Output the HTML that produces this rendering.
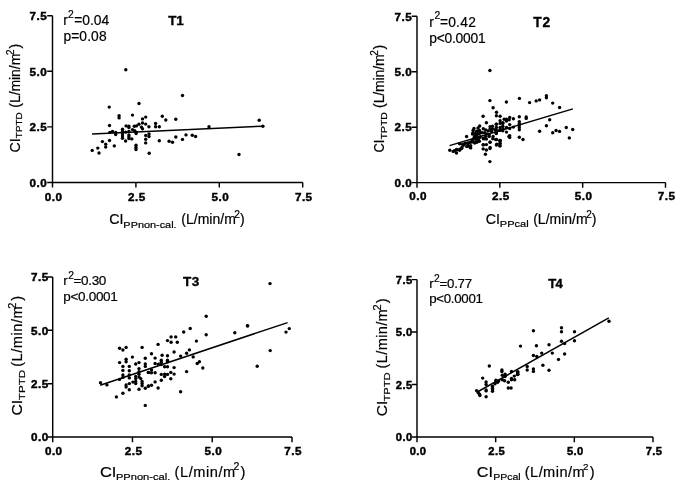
<!DOCTYPE html>
<html><head><meta charset="utf-8"><style>
html,body{margin:0;padding:0;background:#fff;}
svg{display:block;}
text{font-family:"Liberation Sans",Arial,sans-serif;fill:#000;}
.ax{stroke:#000;stroke-width:1.45;fill:none;}
.rl{stroke:#000;stroke-width:1.5;fill:none;}
.tl{font-weight:bold;stroke:#000;stroke-width:0.45px;}
text{stroke:#000;stroke-width:0.2px;}
text[font-weight=bold]{stroke-width:0.35px;}
.pt circle{fill:#000;}
</style></head><body>
<svg width="685" height="490" viewBox="0 0 685 490">
<rect width="685" height="490" fill="#fff"/>
<path d="M52.5 15.8V187.6M47.2 182.4H302.7" class="ax"/>
<path d="M47.2 126.87H52.5M135.9 182.4V187.6M47.2 71.33H52.5M219.3 182.4V187.6M47.2 15.8H52.5M302.7 182.4V187.6" class="ax"/>
<text x="47.2" y="186.6" class="tl" text-anchor="end" font-size="11.7" letter-spacing="0.5">0.0</text>
<text x="53.55" y="200.6" class="tl" text-anchor="middle" font-size="11.7" letter-spacing="0.5">0.0</text>
<text x="47.2" y="131.07" class="tl" text-anchor="end" font-size="11.7" letter-spacing="0.5">2.5</text>
<text x="136.95" y="200.6" class="tl" text-anchor="middle" font-size="11.7" letter-spacing="0.5">2.5</text>
<text x="47.2" y="75.53" class="tl" text-anchor="end" font-size="11.7" letter-spacing="0.5">5.0</text>
<text x="220.35" y="200.6" class="tl" text-anchor="middle" font-size="11.7" letter-spacing="0.5">5.0</text>
<text x="47.2" y="20" class="tl" text-anchor="end" font-size="11.7" letter-spacing="0.5">7.5</text>
<text x="303.75" y="200.6" class="tl" text-anchor="middle" font-size="11.7" letter-spacing="0.5">7.5</text>
<text x="63.3" y="24.6" font-size="13.8">r</text>
<text x="68.1" y="17.8" font-size="10.3">2</text>
<text x="74.3" y="24.6" font-size="13.8" letter-spacing="-0.02">=0.04</text>
<text x="63.4" y="40.8" font-size="13.8" letter-spacing="0.12">p=0.08</text>
<text x="168.2" y="24.7" font-size="13.4" font-weight="bold" letter-spacing="-0.2">T1</text>
<text x="109.29" y="224.2" font-size="14" textLength="14.23" lengthAdjust="spacingAndGlyphs">CI</text>
<text x="123.38" y="227.8" font-size="9.52" textLength="53.21" lengthAdjust="spacingAndGlyphs">PPnon-cal.</text>
<text x="181.2" y="224.2" font-size="14" letter-spacing="0.04">(L/min/m</text>
<text x="234.2" y="217.9" font-size="10.34">2</text>
<text x="240" y="224.2" font-size="14">)</text>
<g transform="rotate(-90)"><text x="-152.41" y="20" font-size="14" textLength="14.23" lengthAdjust="spacingAndGlyphs">CI</text><text x="-138.21" y="22.4" font-size="9.52" textLength="26.04" lengthAdjust="spacingAndGlyphs">TPTD</text><text x="-107.7" y="20" font-size="14" letter-spacing="-0.06">(L/min/m</text><text x="-55.3" y="13.7" font-size="10.47">2</text><text x="-48.6" y="20" font-size="14">)</text></g>
<path d="M92.1 134.1L262.8 126.2" class="rl"/>
<g class="pt"><circle cx="125.8" cy="69.8" r="1.7"/><circle cx="182.5" cy="95.5" r="1.7"/><circle cx="139" cy="103.5" r="1.7"/><circle cx="109.2" cy="107.1" r="1.7"/><circle cx="92.2" cy="150.4" r="1.7"/><circle cx="97.8" cy="148.1" r="1.7"/><circle cx="99" cy="153" r="1.7"/><circle cx="102.4" cy="141.6" r="1.7"/><circle cx="105.7" cy="144.3" r="1.7"/><circle cx="105.7" cy="147.1" r="1.7"/><circle cx="109.5" cy="140.5" r="1.7"/><circle cx="109.5" cy="125.5" r="1.7"/><circle cx="109.8" cy="132.4" r="1.7"/><circle cx="114.3" cy="145.9" r="1.7"/><circle cx="112.5" cy="131.4" r="1.7"/><circle cx="115.7" cy="132.5" r="1.7"/><circle cx="115.7" cy="134.6" r="1.7"/><circle cx="119.1" cy="115.7" r="1.7"/><circle cx="119.1" cy="117.9" r="1.7"/><circle cx="132.5" cy="115.1" r="1.7"/><circle cx="142.5" cy="118.9" r="1.7"/><circle cx="145.7" cy="117.1" r="1.7"/><circle cx="142.5" cy="123" r="1.7"/><circle cx="145.7" cy="124.1" r="1.7"/><circle cx="138.9" cy="124.3" r="1.7"/><circle cx="126.1" cy="125.9" r="1.7"/><circle cx="128.9" cy="126.1" r="1.7"/><circle cx="134.3" cy="126.3" r="1.7"/><circle cx="136.4" cy="125.9" r="1.7"/><circle cx="148.9" cy="126.8" r="1.7"/><circle cx="141.4" cy="127.1" r="1.7"/><circle cx="142.5" cy="128.7" r="1.7"/><circle cx="128.9" cy="127.5" r="1.7"/><circle cx="122.5" cy="129.3" r="1.7"/><circle cx="122.5" cy="131.4" r="1.7"/><circle cx="122.5" cy="133.9" r="1.7"/><circle cx="122.5" cy="136.1" r="1.7"/><circle cx="122.5" cy="138.2" r="1.7"/><circle cx="132.5" cy="129.6" r="1.7"/><circle cx="134.6" cy="130.7" r="1.7"/><circle cx="136.1" cy="132.1" r="1.7"/><circle cx="136.1" cy="133.6" r="1.7"/><circle cx="128.9" cy="131.4" r="1.7"/><circle cx="125.7" cy="132.1" r="1.7"/><circle cx="128.9" cy="135" r="1.7"/><circle cx="128.9" cy="136.8" r="1.7"/><circle cx="128.9" cy="138.6" r="1.7"/><circle cx="131.8" cy="138.9" r="1.7"/><circle cx="125.6" cy="141" r="1.7"/><circle cx="145.7" cy="135.4" r="1.7"/><circle cx="145.7" cy="139.3" r="1.7"/><circle cx="145.7" cy="142.9" r="1.7"/><circle cx="149" cy="134" r="1.7"/><circle cx="149" cy="136.5" r="1.7"/><circle cx="136" cy="145.3" r="1.7"/><circle cx="136" cy="147.4" r="1.7"/><circle cx="136" cy="149.5" r="1.7"/><circle cx="162.3" cy="116.2" r="1.7"/><circle cx="165.8" cy="120" r="1.7"/><circle cx="175.8" cy="119.3" r="1.7"/><circle cx="155.6" cy="123.5" r="1.7"/><circle cx="155.6" cy="126.7" r="1.7"/><circle cx="159.3" cy="126.7" r="1.7"/><circle cx="159.3" cy="140.8" r="1.7"/><circle cx="169.1" cy="141.3" r="1.7"/><circle cx="172.5" cy="142.2" r="1.7"/><circle cx="175.8" cy="137" r="1.7"/><circle cx="182.5" cy="139.4" r="1.7"/><circle cx="186" cy="134.9" r="1.7"/><circle cx="192.3" cy="135.3" r="1.7"/><circle cx="195.6" cy="136.5" r="1.7"/><circle cx="149.2" cy="153.3" r="1.7"/><circle cx="209" cy="126.7" r="1.7"/><circle cx="259.2" cy="120.2" r="1.7"/><circle cx="262.9" cy="126.3" r="1.7"/><circle cx="239" cy="154.5" r="1.7"/></g>
<path d="M417 16.3V187.8M411.7 182.6H665.5" class="ax"/>
<path d="M411.7 127.17H417M499.83 182.6V187.8M411.7 71.73H417M582.67 182.6V187.8M411.7 16.3H417M665.5 182.6V187.8" class="ax"/>
<text x="412.3" y="186.8" class="tl" text-anchor="end" font-size="11.7" letter-spacing="0.5">0.0</text>
<text x="418.05" y="200.4" class="tl" text-anchor="middle" font-size="11.7" letter-spacing="0.5">0.0</text>
<text x="412.3" y="131.37" class="tl" text-anchor="end" font-size="11.7" letter-spacing="0.5">2.5</text>
<text x="500.88" y="200.4" class="tl" text-anchor="middle" font-size="11.7" letter-spacing="0.5">2.5</text>
<text x="412.3" y="75.93" class="tl" text-anchor="end" font-size="11.7" letter-spacing="0.5">5.0</text>
<text x="583.72" y="200.4" class="tl" text-anchor="middle" font-size="11.7" letter-spacing="0.5">5.0</text>
<text x="412.3" y="20.5" class="tl" text-anchor="end" font-size="11.7" letter-spacing="0.5">7.5</text>
<text x="666.55" y="200.4" class="tl" text-anchor="middle" font-size="11.7" letter-spacing="0.5">7.5</text>
<text x="429.2" y="26.6" font-size="13.8">r</text>
<text x="434.5" y="18.8" font-size="10.3">2</text>
<text x="439.9" y="26.6" font-size="13.8" letter-spacing="0.25">=0.42</text>
<text x="429.3" y="42.7" font-size="13.8" letter-spacing="-0.23">p&lt;0.0001</text>
<text x="533.3" y="26.7" font-size="13.8" font-weight="bold" letter-spacing="0.9">T2</text>
<text x="485.69" y="224" font-size="14" textLength="14.23" lengthAdjust="spacingAndGlyphs">CI</text>
<text x="499.87" y="227" font-size="9.52" textLength="28.85" lengthAdjust="spacingAndGlyphs">PPcal</text>
<text x="533.2" y="224" font-size="14">(L/min/m</text>
<text x="586.2" y="218.1" font-size="10.06">2</text>
<text x="591.7" y="224" font-size="14">)</text>
<g transform="rotate(-90)"><text x="-152.55" y="384.2" font-size="14" textLength="12.95" lengthAdjust="spacingAndGlyphs">CI</text><text x="-139.52" y="386.8" font-size="9.52" textLength="27.38" lengthAdjust="spacingAndGlyphs">TPTD</text><text x="-107.9" y="384.2" font-size="14" letter-spacing="-0.13">(L/min/m</text><text x="-55.8" y="378" font-size="10.06">2</text><text x="-49.5" y="384.2" font-size="14">)</text></g>
<path d="M449.5 145.6L572.9 108.9" class="rl"/>
<g class="pt"><circle cx="489.9" cy="70.5" r="1.7"/><circle cx="489.9" cy="100.6" r="1.7"/><circle cx="493.1" cy="107.7" r="1.7"/><circle cx="496.5" cy="112.3" r="1.7"/><circle cx="506.4" cy="102" r="1.7"/><circle cx="519.4" cy="98.4" r="1.7"/><circle cx="529.6" cy="102.6" r="1.7"/><circle cx="536.2" cy="100.9" r="1.7"/><circle cx="539.6" cy="99.9" r="1.7"/><circle cx="546.4" cy="95.8" r="1.7"/><circle cx="546.4" cy="97.7" r="1.7"/><circle cx="552.7" cy="103.1" r="1.7"/><circle cx="559.6" cy="107.5" r="1.7"/><circle cx="549.7" cy="119.8" r="1.7"/><circle cx="546.4" cy="125.7" r="1.7"/><circle cx="539.6" cy="131.3" r="1.7"/><circle cx="552.7" cy="132.8" r="1.7"/><circle cx="556.1" cy="130.5" r="1.7"/><circle cx="559.6" cy="131.4" r="1.7"/><circle cx="566.3" cy="127.5" r="1.7"/><circle cx="572.7" cy="129.5" r="1.7"/><circle cx="569.3" cy="137.9" r="1.7"/><circle cx="500.1" cy="116.3" r="1.7"/><circle cx="519.3" cy="116.8" r="1.7"/><circle cx="526.2" cy="117" r="1.7"/><circle cx="526.2" cy="118.4" r="1.7"/><circle cx="509.7" cy="117.4" r="1.7"/><circle cx="513.4" cy="118.8" r="1.7"/><circle cx="506.5" cy="119.3" r="1.7"/><circle cx="509.2" cy="119.7" r="1.7"/><circle cx="506.5" cy="121.1" r="1.7"/><circle cx="500.1" cy="120.7" r="1.7"/><circle cx="519.3" cy="121.6" r="1.7"/><circle cx="519.3" cy="123.4" r="1.7"/><circle cx="519.3" cy="125.3" r="1.7"/><circle cx="519.3" cy="127.5" r="1.7"/><circle cx="519.3" cy="129.8" r="1.7"/><circle cx="509.7" cy="124.6" r="1.7"/><circle cx="513.4" cy="127.1" r="1.7"/><circle cx="509.7" cy="128.5" r="1.7"/><circle cx="506.5" cy="127.5" r="1.7"/><circle cx="502.8" cy="123.4" r="1.7"/><circle cx="502.8" cy="126.2" r="1.7"/><circle cx="500.1" cy="123.4" r="1.7"/><circle cx="500.1" cy="127.5" r="1.7"/><circle cx="496.4" cy="124.3" r="1.7"/><circle cx="496.4" cy="127.5" r="1.7"/><circle cx="496.4" cy="130.3" r="1.7"/><circle cx="496.4" cy="133.1" r="1.7"/><circle cx="500.1" cy="130.3" r="1.7"/><circle cx="502.8" cy="130.8" r="1.7"/><circle cx="506.5" cy="132.1" r="1.7"/><circle cx="509.7" cy="135.8" r="1.7"/><circle cx="509.7" cy="137.6" r="1.7"/><circle cx="519.3" cy="137.2" r="1.7"/><circle cx="523" cy="139.5" r="1.7"/><circle cx="496.4" cy="139.5" r="1.7"/><circle cx="500.1" cy="140.4" r="1.7"/><circle cx="500.1" cy="143.2" r="1.7"/><circle cx="504.2" cy="119.2" r="1.7"/><circle cx="508.9" cy="136.4" r="1.7"/><circle cx="483.1" cy="116.3" r="1.7"/><circle cx="486.4" cy="122.8" r="1.7"/><circle cx="479.7" cy="126" r="1.7"/><circle cx="496.2" cy="124.1" r="1.7"/><circle cx="502.9" cy="122.6" r="1.7"/><circle cx="502.9" cy="128.7" r="1.7"/><circle cx="499.9" cy="130.2" r="1.7"/><circle cx="490.1" cy="126.6" r="1.7"/><circle cx="492.5" cy="126.3" r="1.7"/><circle cx="490.1" cy="128.7" r="1.7"/><circle cx="492.5" cy="129" r="1.7"/><circle cx="495" cy="129.6" r="1.7"/><circle cx="483.3" cy="128.7" r="1.7"/><circle cx="485.8" cy="129.9" r="1.7"/><circle cx="488.2" cy="130.9" r="1.7"/><circle cx="491.3" cy="131.2" r="1.7"/><circle cx="496.2" cy="131.8" r="1.7"/><circle cx="496.2" cy="133.6" r="1.7"/><circle cx="476.9" cy="131.2" r="1.7"/><circle cx="479.7" cy="130.9" r="1.7"/><circle cx="479.7" cy="133.3" r="1.7"/><circle cx="482.1" cy="132.7" r="1.7"/><circle cx="484.6" cy="132.7" r="1.7"/><circle cx="487" cy="133.9" r="1.7"/><circle cx="489.2" cy="134.5" r="1.7"/><circle cx="493.1" cy="136.4" r="1.7"/><circle cx="489.2" cy="136.4" r="1.7"/><circle cx="485.8" cy="136.4" r="1.7"/><circle cx="483.3" cy="138.2" r="1.7"/><circle cx="479.7" cy="137.6" r="1.7"/><circle cx="476.9" cy="136.4" r="1.7"/><circle cx="476.9" cy="138.8" r="1.7"/><circle cx="486.4" cy="139.1" r="1.7"/><circle cx="492.8" cy="138.8" r="1.7"/><circle cx="496.2" cy="139.4" r="1.7"/><circle cx="499.9" cy="140.4" r="1.7"/><circle cx="490.1" cy="142.2" r="1.7"/><circle cx="479.4" cy="141.3" r="1.7"/><circle cx="476.9" cy="142.2" r="1.7"/><circle cx="483.3" cy="144.6" r="1.7"/><circle cx="486.4" cy="144.6" r="1.7"/><circle cx="496.8" cy="144.3" r="1.7"/><circle cx="499.9" cy="143.7" r="1.7"/><circle cx="499.9" cy="145.9" r="1.7"/><circle cx="490.1" cy="147.4" r="1.7"/><circle cx="496.4" cy="115.7" r="1.7"/><circle cx="489.9" cy="161.6" r="1.7"/><circle cx="485.4" cy="154.3" r="1.7"/><circle cx="483.2" cy="148.9" r="1.7"/><circle cx="486.4" cy="150" r="1.7"/><circle cx="490" cy="148.6" r="1.7"/><circle cx="483.2" cy="144.9" r="1.7"/><circle cx="490" cy="142.1" r="1.7"/><circle cx="496.4" cy="145" r="1.7"/><circle cx="500" cy="145.7" r="1.7"/><circle cx="500" cy="140.7" r="1.7"/><circle cx="495.7" cy="139.6" r="1.7"/><circle cx="483.6" cy="138.9" r="1.7"/><circle cx="473.6" cy="142.1" r="1.7"/><circle cx="470.7" cy="145.7" r="1.7"/><circle cx="470.7" cy="147.9" r="1.7"/><circle cx="466.6" cy="136.5" r="1.7"/><circle cx="449.8" cy="150.2" r="1.7"/><circle cx="453.2" cy="151.4" r="1.7"/><circle cx="456.5" cy="149.9" r="1.7"/><circle cx="456.5" cy="153" r="1.7"/><circle cx="459.6" cy="150.2" r="1.7"/><circle cx="461.7" cy="148.4" r="1.7"/><circle cx="463.3" cy="145.3" r="1.7"/><circle cx="459.6" cy="143.8" r="1.7"/><circle cx="465.1" cy="143.5" r="1.7"/><circle cx="467.6" cy="142.9" r="1.7"/><circle cx="467.6" cy="145.9" r="1.7"/><circle cx="454.4" cy="150.7" r="1.7"/><circle cx="456.6" cy="149.4" r="1.7"/><circle cx="459.7" cy="149.1" r="1.7"/><circle cx="461.8" cy="147.6" r="1.7"/><circle cx="462.7" cy="144.2" r="1.7"/><circle cx="466.7" cy="146.4" r="1.7"/><circle cx="468.2" cy="143.6" r="1.7"/><circle cx="469.8" cy="147" r="1.7"/><circle cx="469.8" cy="142.4" r="1.7"/><circle cx="471.6" cy="142.1" r="1.7"/><circle cx="472.2" cy="140.2" r="1.7"/><circle cx="473.7" cy="138.4" r="1.7"/><circle cx="473.1" cy="130.4" r="1.7"/><circle cx="473.1" cy="132.6" r="1.7"/><circle cx="475.3" cy="134.1" r="1.7"/><circle cx="476.5" cy="131.7" r="1.7"/><circle cx="476.5" cy="136" r="1.7"/><circle cx="476.5" cy="141.5" r="1.7"/><circle cx="478.3" cy="139.6" r="1.7"/><circle cx="474.7" cy="143" r="1.7"/><circle cx="477.7" cy="134.1" r="1.7"/><circle cx="479.3" cy="130.4" r="1.7"/><circle cx="480.2" cy="136.6" r="1.7"/><circle cx="474.5" cy="136.5" r="1.7"/><circle cx="472.5" cy="134" r="1.7"/><circle cx="475" cy="139" r="1.7"/><circle cx="478" cy="128" r="1.7"/><circle cx="474" cy="128.5" r="1.7"/></g>
<path d="M52.7 277V442.2M47.4 437H292" class="ax"/>
<path d="M47.4 383.67H52.7M132.47 437V442.2M47.4 330.33H52.7M212.23 437V442.2M47.4 277H52.7M292 437V442.2" class="ax"/>
<text x="48.7" y="441.2" class="tl" text-anchor="end" font-size="11.7" letter-spacing="0.5">0.0</text>
<text x="53.75" y="454.6" class="tl" text-anchor="middle" font-size="11.7" letter-spacing="0.5">0.0</text>
<text x="48.7" y="387.87" class="tl" text-anchor="end" font-size="11.7" letter-spacing="0.5">2.5</text>
<text x="133.52" y="454.6" class="tl" text-anchor="middle" font-size="11.7" letter-spacing="0.5">2.5</text>
<text x="48.7" y="334.53" class="tl" text-anchor="end" font-size="11.7" letter-spacing="0.5">5.0</text>
<text x="213.28" y="454.6" class="tl" text-anchor="middle" font-size="11.7" letter-spacing="0.5">5.0</text>
<text x="48.7" y="281.2" class="tl" text-anchor="end" font-size="11.7" letter-spacing="0.5">7.5</text>
<text x="293.05" y="454.6" class="tl" text-anchor="middle" font-size="11.7" letter-spacing="0.5">7.5</text>
<text x="63.2" y="285.4" font-size="13.5">r</text>
<text x="68.2" y="278.8" font-size="10.3">2</text>
<text x="73.5" y="285.4" font-size="13.5" letter-spacing="-0.32">=0.30</text>
<text x="63.2" y="300.8" font-size="13.5" letter-spacing="-0.29">p&lt;0.0001</text>
<text x="183" y="285.7" font-size="13.5" font-weight="bold" letter-spacing="0.6">T3</text>
<text x="99.94" y="476.6" font-size="15.3" textLength="16.48" lengthAdjust="spacingAndGlyphs">CI</text>
<text x="115.9" y="479.6" font-size="9.93" textLength="54.44" lengthAdjust="spacingAndGlyphs">PPnon-cal.</text>
<text x="174.6" y="476.6" font-size="14.6" letter-spacing="0.56">(L/min/m</text>
<text x="233.4" y="470.2" font-size="10.61">2</text>
<text x="240.4" y="476.6" font-size="14.6">)</text>
<g transform="rotate(-90)"><text x="-415.63" y="21.8" font-size="15.2" textLength="15.78" lengthAdjust="spacingAndGlyphs">CI</text><text x="-400.23" y="25" font-size="9.93" textLength="30.36" lengthAdjust="spacingAndGlyphs">TPTD</text><text x="-366.8" y="21.8" font-size="14.6" letter-spacing="0.54">(L/min/m</text><text x="-308.8" y="15.8" font-size="11.03">2</text><text x="-300.7" y="21.8" font-size="14.6">)</text></g>
<path d="M100.2 385.2L287.6 322.6" class="rl"/>
<g class="pt"><circle cx="119.6" cy="348.3" r="1.7"/><circle cx="122.9" cy="350" r="1.7"/><circle cx="126.1" cy="347.4" r="1.7"/><circle cx="142.1" cy="347.4" r="1.7"/><circle cx="132.4" cy="357.1" r="1.7"/><circle cx="145.3" cy="358.3" r="1.7"/><circle cx="126.1" cy="359.3" r="1.7"/><circle cx="126.1" cy="361.7" r="1.7"/><circle cx="119.6" cy="362.6" r="1.7"/><circle cx="122.9" cy="366.4" r="1.7"/><circle cx="129.3" cy="366.4" r="1.7"/><circle cx="135.7" cy="364" r="1.7"/><circle cx="139" cy="362.6" r="1.7"/><circle cx="145.3" cy="364" r="1.7"/><circle cx="145.3" cy="366.4" r="1.7"/><circle cx="122.9" cy="370.4" r="1.7"/><circle cx="129.3" cy="370.7" r="1.7"/><circle cx="139" cy="368.6" r="1.7"/><circle cx="139" cy="371.7" r="1.7"/><circle cx="148.6" cy="372.6" r="1.7"/><circle cx="122.9" cy="375" r="1.7"/><circle cx="129.3" cy="375" r="1.7"/><circle cx="122.9" cy="377.4" r="1.7"/><circle cx="129.3" cy="377.9" r="1.7"/><circle cx="135.7" cy="376.4" r="1.7"/><circle cx="135.7" cy="378.6" r="1.7"/><circle cx="139" cy="374.3" r="1.7"/><circle cx="139" cy="377.1" r="1.7"/><circle cx="140.7" cy="378.6" r="1.7"/><circle cx="119.5" cy="379.4" r="1.7"/><circle cx="135.7" cy="381.4" r="1.7"/><circle cx="132.9" cy="382.1" r="1.7"/><circle cx="129.3" cy="383.6" r="1.7"/><circle cx="135.7" cy="383.6" r="1.7"/><circle cx="142.1" cy="381.4" r="1.7"/><circle cx="142.1" cy="383.6" r="1.7"/><circle cx="142.1" cy="385.7" r="1.7"/><circle cx="126.1" cy="385" r="1.7"/><circle cx="126.1" cy="387.1" r="1.7"/><circle cx="129.3" cy="389.7" r="1.7"/><circle cx="139" cy="389.3" r="1.7"/><circle cx="145.3" cy="388.3" r="1.7"/><circle cx="148.6" cy="386" r="1.7"/><circle cx="100.5" cy="382.8" r="1.7"/><circle cx="106.9" cy="384.9" r="1.7"/><circle cx="122.9" cy="393.2" r="1.7"/><circle cx="116.4" cy="396.9" r="1.7"/><circle cx="145.3" cy="405.4" r="1.7"/><circle cx="183.7" cy="332" r="1.7"/><circle cx="171.1" cy="336.9" r="1.7"/><circle cx="175.7" cy="336.9" r="1.7"/><circle cx="167.5" cy="340.6" r="1.7"/><circle cx="171.1" cy="342.2" r="1.7"/><circle cx="177.3" cy="342.2" r="1.7"/><circle cx="196.4" cy="341.1" r="1.7"/><circle cx="158.1" cy="344.4" r="1.7"/><circle cx="174.1" cy="352" r="1.7"/><circle cx="189.4" cy="349.9" r="1.7"/><circle cx="186.6" cy="353.2" r="1.7"/><circle cx="151.5" cy="353.7" r="1.7"/><circle cx="162.1" cy="355.3" r="1.7"/><circle cx="167.5" cy="355.8" r="1.7"/><circle cx="180.6" cy="356.1" r="1.7"/><circle cx="193.2" cy="356.9" r="1.7"/><circle cx="155.1" cy="358.1" r="1.7"/><circle cx="161.3" cy="360.2" r="1.7"/><circle cx="167.5" cy="360.2" r="1.7"/><circle cx="161.3" cy="362.3" r="1.7"/><circle cx="167.5" cy="361.8" r="1.7"/><circle cx="155.1" cy="363.5" r="1.7"/><circle cx="158.4" cy="364.3" r="1.7"/><circle cx="161.3" cy="364.6" r="1.7"/><circle cx="164.6" cy="366.7" r="1.7"/><circle cx="167.5" cy="366.7" r="1.7"/><circle cx="174.1" cy="367.6" r="1.7"/><circle cx="197.2" cy="363.5" r="1.7"/><circle cx="199.4" cy="361.8" r="1.7"/><circle cx="148.3" cy="372.4" r="1.7"/><circle cx="151.5" cy="372.8" r="1.7"/><circle cx="155.1" cy="372.8" r="1.7"/><circle cx="151.5" cy="370" r="1.7"/><circle cx="161.3" cy="374.4" r="1.7"/><circle cx="164.6" cy="374.1" r="1.7"/><circle cx="167.5" cy="374.4" r="1.7"/><circle cx="164.6" cy="376.5" r="1.7"/><circle cx="170.8" cy="372.4" r="1.7"/><circle cx="174.1" cy="374.1" r="1.7"/><circle cx="186.6" cy="371.6" r="1.7"/><circle cx="170.8" cy="378.7" r="1.7"/><circle cx="161.3" cy="380.3" r="1.7"/><circle cx="155.1" cy="381.9" r="1.7"/><circle cx="151.5" cy="385.2" r="1.7"/><circle cx="148.3" cy="386.3" r="1.7"/><circle cx="158.1" cy="388" r="1.7"/><circle cx="180.6" cy="391.7" r="1.7"/><circle cx="202.8" cy="368" r="1.7"/><circle cx="206.2" cy="316.3" r="1.7"/><circle cx="247.7" cy="325.9" r="1.7"/><circle cx="234.8" cy="332.7" r="1.7"/><circle cx="206.2" cy="334.7" r="1.7"/><circle cx="257.2" cy="366.3" r="1.7"/><circle cx="270" cy="283.6" r="1.7"/><circle cx="247.4" cy="325.7" r="1.7"/><circle cx="289.3" cy="328.6" r="1.7"/><circle cx="286" cy="332.1" r="1.7"/><circle cx="190.2" cy="328.5" r="1.7"/><circle cx="270.2" cy="350.6" r="1.7"/></g>
<path d="M417 279.6V442.2M411.7 437H653" class="ax"/>
<path d="M411.7 384.53H417M495.67 437V442.2M411.7 332.07H417M574.33 437V442.2M411.7 279.6H417M653 437V442.2" class="ax"/>
<text x="412.6" y="441.2" class="tl" text-anchor="end" font-size="11.2" letter-spacing="0.4">0.0</text>
<text x="418.05" y="454.6" class="tl" text-anchor="middle" font-size="11.2" letter-spacing="0.4">0.0</text>
<text x="412.6" y="388.73" class="tl" text-anchor="end" font-size="11.2" letter-spacing="0.4">2.5</text>
<text x="496.72" y="454.6" class="tl" text-anchor="middle" font-size="11.2" letter-spacing="0.4">2.5</text>
<text x="412.6" y="336.27" class="tl" text-anchor="end" font-size="11.2" letter-spacing="0.4">5.0</text>
<text x="575.38" y="454.6" class="tl" text-anchor="middle" font-size="11.2" letter-spacing="0.4">5.0</text>
<text x="412.6" y="283.8" class="tl" text-anchor="end" font-size="11.2" letter-spacing="0.4">7.5</text>
<text x="654.05" y="454.6" class="tl" text-anchor="middle" font-size="11.2" letter-spacing="0.4">7.5</text>
<text x="429.2" y="288" font-size="13.3">r</text>
<text x="434.1" y="282" font-size="10.3">2</text>
<text x="439.6" y="288" font-size="13.3" letter-spacing="-0.3">=0.77</text>
<text x="429.2" y="303.1" font-size="13.3" letter-spacing="-0.3">p&lt;0.0001</text>
<text x="548.2" y="288.2" font-size="13.1" font-weight="bold" letter-spacing="-0.6">T4</text>
<text x="476.84" y="476.5" font-size="15" textLength="16.17" lengthAdjust="spacingAndGlyphs">CI</text>
<text x="493.15" y="479.5" font-size="9.93" textLength="27.56" lengthAdjust="spacingAndGlyphs">PPcal</text>
<text x="524.8" y="476.5" font-size="14.6" letter-spacing="0.43">(L/min/m</text>
<text x="583.1" y="470.3" font-size="9.92">2</text>
<text x="589.7" y="476.5" font-size="14.6">)</text>
<g transform="rotate(-90)"><text x="-416.22" y="386.5" font-size="15.2" textLength="15.55" lengthAdjust="spacingAndGlyphs">CI</text><text x="-401.63" y="389.5" font-size="9.93" textLength="29.23" lengthAdjust="spacingAndGlyphs">TPTD</text><text x="-368.4" y="386.5" font-size="14.6" letter-spacing="0.34">(L/min/m</text><text x="-310.5" y="380.8" font-size="11.03">2</text><text x="-303.2" y="386.5" font-size="14.6">)</text></g>
<path d="M477.3 392L608.8 317.8" class="rl"/>
<g class="pt"><circle cx="489.3" cy="366" r="1.7"/><circle cx="482.7" cy="378.1" r="1.7"/><circle cx="501.9" cy="369.9" r="1.7"/><circle cx="501.9" cy="371.5" r="1.7"/><circle cx="511.5" cy="371.5" r="1.7"/><circle cx="518" cy="372" r="1.7"/><circle cx="518" cy="374.2" r="1.7"/><circle cx="502.3" cy="375.2" r="1.7"/><circle cx="505.1" cy="374.2" r="1.7"/><circle cx="505.1" cy="376.5" r="1.7"/><circle cx="514.3" cy="376.1" r="1.7"/><circle cx="511.5" cy="378.4" r="1.7"/><circle cx="514.7" cy="379.8" r="1.7"/><circle cx="511.5" cy="379.8" r="1.7"/><circle cx="502.3" cy="379.8" r="1.7"/><circle cx="504.6" cy="380.7" r="1.7"/><circle cx="508.3" cy="382.3" r="1.7"/><circle cx="495.9" cy="380.2" r="1.7"/><circle cx="498.7" cy="380.7" r="1.7"/><circle cx="495.9" cy="382.1" r="1.7"/><circle cx="497.7" cy="382.2" r="1.7"/><circle cx="495" cy="383.7" r="1.7"/><circle cx="486.1" cy="382" r="1.7"/><circle cx="486.1" cy="384.5" r="1.7"/><circle cx="486.1" cy="390" r="1.7"/><circle cx="486.1" cy="390.9" r="1.7"/><circle cx="476.6" cy="390.6" r="1.7"/><circle cx="478.1" cy="392.5" r="1.7"/><circle cx="479.6" cy="394.3" r="1.7"/><circle cx="479.9" cy="395.5" r="1.7"/><circle cx="486.1" cy="396.7" r="1.7"/><circle cx="492.5" cy="386.3" r="1.7"/><circle cx="492.5" cy="388.2" r="1.7"/><circle cx="492.5" cy="389.7" r="1.7"/><circle cx="492.5" cy="391.2" r="1.7"/><circle cx="508.3" cy="388" r="1.7"/><circle cx="511.1" cy="388" r="1.7"/><circle cx="533.4" cy="330.7" r="1.7"/><circle cx="561.5" cy="327.7" r="1.7"/><circle cx="561.5" cy="331.7" r="1.7"/><circle cx="574.5" cy="331.7" r="1.7"/><circle cx="520.5" cy="346.1" r="1.7"/><circle cx="536.4" cy="345.7" r="1.7"/><circle cx="549" cy="344.7" r="1.7"/><circle cx="561.5" cy="341.2" r="1.7"/><circle cx="564.6" cy="343.6" r="1.7"/><circle cx="574.5" cy="340.7" r="1.7"/><circle cx="541.7" cy="353.1" r="1.7"/><circle cx="552.3" cy="353.1" r="1.7"/><circle cx="533.4" cy="355.5" r="1.7"/><circle cx="536.8" cy="356.5" r="1.7"/><circle cx="564.6" cy="354" r="1.7"/><circle cx="558.5" cy="359.4" r="1.7"/><circle cx="542.9" cy="365.3" r="1.7"/><circle cx="527.2" cy="366.5" r="1.7"/><circle cx="527.2" cy="370" r="1.7"/><circle cx="533.4" cy="369" r="1.7"/><circle cx="533.4" cy="371.4" r="1.7"/><circle cx="549" cy="370.2" r="1.7"/><circle cx="517.4" cy="372" r="1.7"/><circle cx="517.4" cy="374.5" r="1.7"/><circle cx="609" cy="321.3" r="1.7"/></g>
</svg>
</body></html>
